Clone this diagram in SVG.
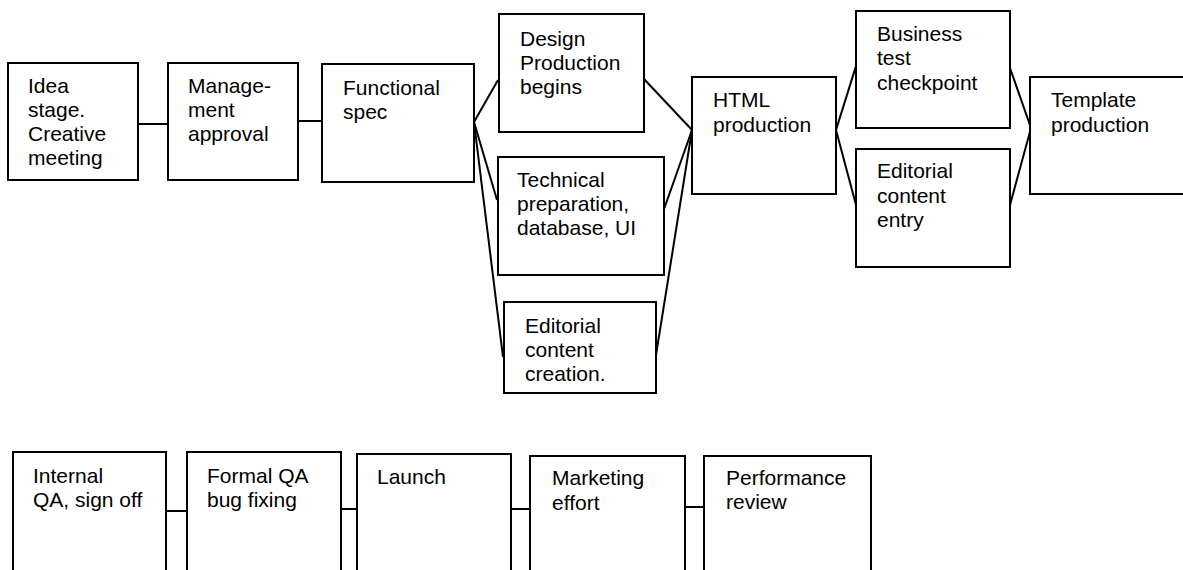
<svg xmlns="http://www.w3.org/2000/svg" width="1183" height="570" viewBox="0 0 1183 570">
<style>
  rect.box { fill: #ffffff; stroke: #000000; stroke-width: 2; }
  text { font-family: "Liberation Sans", Arial, sans-serif; font-size: 21px; fill: #000000; }
  #connectors line { stroke: #000000; stroke-width: 2; }
</style>
<rect width="1183" height="570" fill="#ffffff"/>
<g id="connectors">
  <line x1="138" y1="124" x2="168" y2="124"/>
  <line x1="298" y1="121" x2="322" y2="121"/>
  <line x1="474" y1="122" x2="498" y2="80"/>
  <line x1="474" y1="122" x2="497" y2="200"/>
  <line x1="474" y1="122" x2="503" y2="357"/>
  <line x1="644" y1="79" x2="692" y2="130"/>
  <line x1="663" y1="212" x2="692" y2="130"/>
  <line x1="656" y1="355" x2="692" y2="130"/>
  <line x1="836" y1="130" x2="856" y2="66"/>
  <line x1="836" y1="130" x2="856" y2="205"/>
  <line x1="1010" y1="68" x2="1031" y2="128"/>
  <line x1="1010" y1="205" x2="1031" y2="128"/>
  <line x1="166" y1="511" x2="187" y2="511"/>
  <line x1="341" y1="509" x2="357" y2="509"/>
  <line x1="511" y1="509" x2="530" y2="509"/>
  <line x1="685" y1="507" x2="704" y2="507"/>
</g>
<g id="n-idea">
  <rect class="box" x="8" y="63" width="130" height="117"/>
  <text x="28" y="93">Idea</text>
  <text x="28" y="117">stage.</text>
  <text x="28" y="141">Creative</text>
  <text x="28" y="165">meeting</text>
</g>
<g id="n-management">
  <rect class="box" x="168" y="63" width="130" height="117"/>
  <text x="188" y="93">Manage-</text>
  <text x="188" y="117">ment</text>
  <text x="188" y="141">approval</text>
</g>
<g id="n-functional">
  <rect class="box" x="322" y="64" width="152" height="118"/>
  <text x="343" y="95">Functional</text>
  <text x="343" y="119">spec</text>
</g>
<g id="n-design">
  <rect class="box" x="499" y="14" width="145" height="118"/>
  <text x="520" y="46">Design</text>
  <text x="520" y="70">Production</text>
  <text x="520" y="94">begins</text>
</g>
<g id="n-technical">
  <rect class="box" x="498" y="157" width="166" height="118"/>
  <text x="517" y="187">Technical</text>
  <text x="517" y="211">preparation,</text>
  <text x="517" y="235">database, UI</text>
</g>
<g id="n-editorial-creation">
  <rect class="box" x="504" y="302" width="152" height="91"/>
  <text x="525" y="333">Editorial</text>
  <text x="525" y="357">content</text>
  <text x="525" y="381">creation.</text>
</g>
<g id="n-html">
  <rect class="box" x="692" y="77" width="144" height="117"/>
  <text x="713" y="107">HTML</text>
  <text x="713" y="132">production</text>
</g>
<g id="n-business">
  <rect class="box" x="856" y="11" width="154" height="117"/>
  <text x="877" y="41">Business</text>
  <text x="877" y="65">test</text>
  <text x="877" y="90">checkpoint</text>
</g>
<g id="n-editorial-entry">
  <rect class="box" x="856" y="149" width="154" height="118"/>
  <text x="877" y="178">Editorial</text>
  <text x="877" y="203">content</text>
  <text x="877" y="227">entry</text>
</g>
<g id="n-template">
  <rect class="box" x="1030" y="77" width="160" height="117"/>
  <text x="1051" y="107">Template</text>
  <text x="1051" y="132">production</text>
</g>
<g id="n-internal-qa">
  <rect class="box" x="13" y="452" width="153" height="140"/>
  <text x="33" y="483">Internal</text>
  <text x="33" y="507">QA, sign off</text>
</g>
<g id="n-formal-qa">
  <rect class="box" x="187" y="452" width="154" height="140"/>
  <text x="207" y="483">Formal QA</text>
  <text x="207" y="507">bug fixing</text>
</g>
<g id="n-launch">
  <rect class="box" x="357" y="454" width="154" height="140"/>
  <text x="377" y="484">Launch</text>
</g>
<g id="n-marketing">
  <rect class="box" x="530" y="456" width="155" height="140"/>
  <text x="552" y="485">Marketing</text>
  <text x="552" y="510">effort</text>
</g>
<g id="n-performance">
  <rect class="box" x="704" y="456" width="167" height="140"/>
  <text x="726" y="485">Performance</text>
  <text x="726" y="509">review</text>
</g>
</svg>
